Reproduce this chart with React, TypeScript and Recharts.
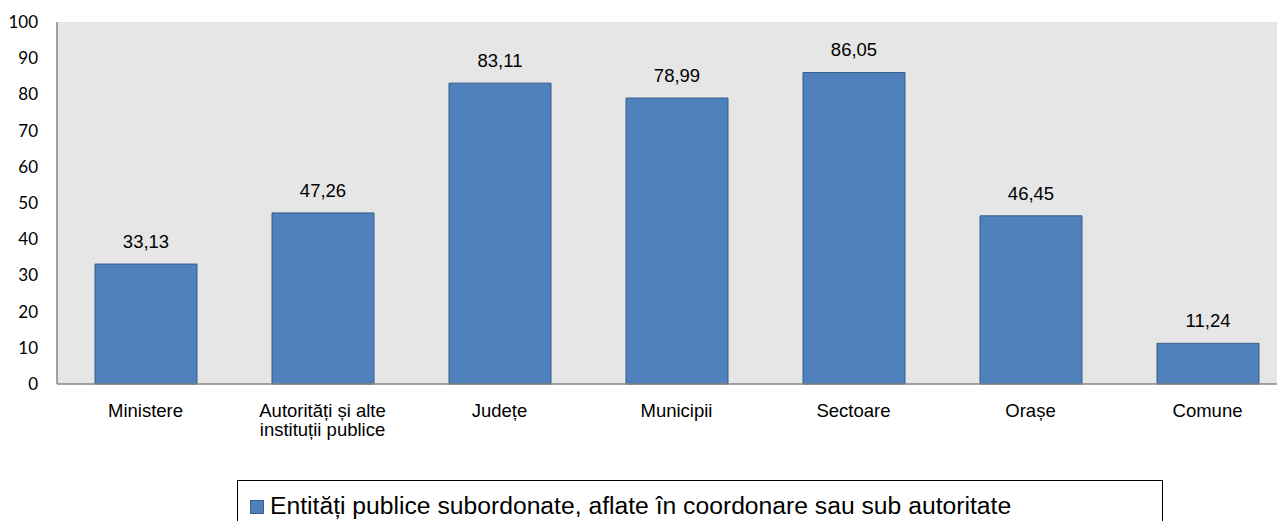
import React from 'react';
import { BarChart, Bar, XAxis, YAxis, CartesianGrid, LabelList, Text } from 'recharts';

const categories = [
  'Ministere',
  'Autorități și alte instituții publice',
  'Județe',
  'Municipii',
  'Sectoare',
  'Orașe',
  'Comune',
];
const entityValues = [33.13, 47.26, 83.11, 78.99, 86.05, 46.45, 11.24];
const yTicks = [0, 10, 20, 30, 40, 50, 60, 70, 80, 90, 100];
const seriesName = 'Entități publice subordonate, aflate în coordonare sau sub autoritate';

const data = categories.map((name, i) => ({ name, value: entityValues[i] }));

const BAR_FILL = '#4f81bd';
const BAR_STROKE = '#385d8a';
const AXIS_GRAY = '#868686';

// category names wrap onto two lines when too wide for the band
const CategoryTick = (props: any) => {
  const { x, y, payload } = props;
  return (
    <Text
      x={x}
      y={y + 20}
      width={160}
      textAnchor="middle"
      verticalAnchor="start"
      lineHeight="1em"
      style={{ fontFamily: 'Arial, "Liberation Sans", sans-serif', fontSize: 18.5, fill: '#000' }}
    >
      {payload.value}
    </Text>
  );
};

const formatValue = (v: any) => Number(v).toFixed(2).replace('.', ',');

const App: React.FC = () => {
  return (
    <div
      style={{
        margin: -8,
        width: 1285,
        height: 529,
        overflow: 'hidden',
        position: 'relative',
        background: '#fff',
      }}
    >
      <BarChart
        width={1300}
        height={529}
        data={data}
        margin={{ top: 22, right: 4, left: 0, bottom: 85 }}
        barSize={102}
      >
        <CartesianGrid fill="#e6e6e6" horizontal={false} vertical={false} />
        <XAxis
          dataKey="name"
          height={60}
          interval={0}
          tickLine={false}
          tickSize={0}
          tickMargin={0}
          axisLine={{ stroke: AXIS_GRAY, strokeWidth: 1.5 }}
          tick={<CategoryTick />}
        />
        <YAxis
          width={57}
          domain={[0, 100]}
          ticks={yTicks}
          interval={0}
          tickLine={false}
          tickSize={0}
          tickMargin={19}
          axisLine={{ stroke: AXIS_GRAY, strokeWidth: 1.5 }}
          tick={{ fontFamily: 'Lato, Carlito, sans-serif', fontSize: 17, fill: '#000' }}
        />
        <Bar
          dataKey="value"
          name={seriesName}
          fill={BAR_FILL}
          stroke={BAR_STROKE}
          strokeWidth={1}
          isAnimationActive={false}
        >
          <LabelList
            dataKey="value"
            position="top"
            offset={16}
            formatter={formatValue}
            style={{ fontFamily: 'Arial, "Liberation Sans", sans-serif', fontSize: 18.5, fill: '#000' }}
          />
        </Bar>
      </BarChart>

      {/* boxed legend below the plot */}
      <div
        style={{
          position: 'absolute',
          left: 237,
          top: 480,
          width: 926,
          height: 70,
          border: '1.5px solid #000',
          boxSizing: 'border-box',
          fontFamily: 'Arial, "Liberation Sans", sans-serif',
        }}
      >
        <div
          style={{
            position: 'absolute',
            left: 12,
            top: 19,
            width: 12,
            height: 12,
            background: BAR_FILL,
            border: `1px solid ${BAR_STROKE}`,
          }}
        />
        <div
          style={{
            position: 'absolute',
            left: 32,
            top: 11,
            fontSize: 24.7,
            lineHeight: '28px',
            color: '#000',
            whiteSpace: 'nowrap',
          }}
        >
          {seriesName}
        </div>
      </div>
    </div>
  );
};

export default App;
